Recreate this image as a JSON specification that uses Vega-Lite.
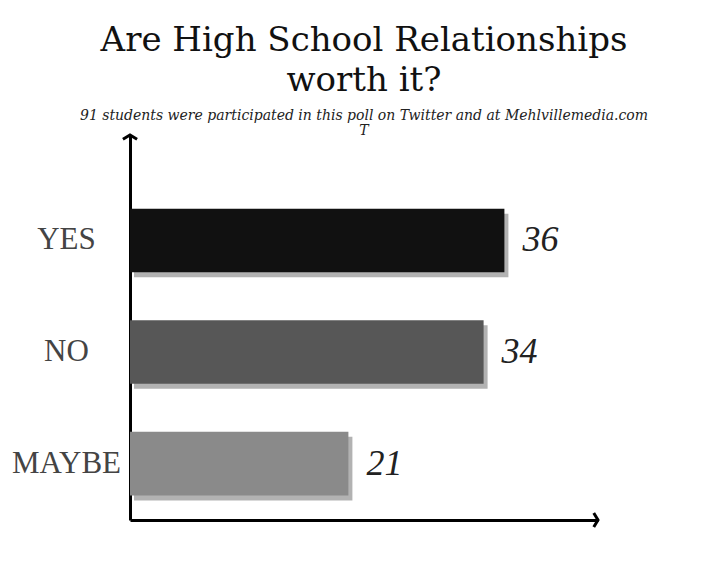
{
  "$schema": "https://vega.github.io/schema/vega-lite/v6.json",
  "width": 468,
  "height": 385,
  "autosize": {"type": "none"},
  "padding": {"left": 130, "top": 135, "right": 122, "bottom": 56},
  "background": "white",
  "title": {
    "text": ["Are High School Relationships", "worth it?"],
    "subtitle": ["91 students were participated in this poll on Twitter and at Mehlvillemedia.com", "T"],
    "font": "DejaVu Serif",
    "fontSize": 34,
    "fontWeight": "normal",
    "color": "#111111",
    "lineHeight": 40,
    "subtitleFont": "DejaVu Serif",
    "subtitleFontStyle": "italic",
    "subtitleFontSize": 14,
    "subtitleColor": "#222222",
    "subtitleLineHeight": 15,
    "subtitlePadding": 11,
    "anchor": "middle",
    "frame": "group",
    "offset": -9
  },
  "config": {"view": {"stroke": null}},
  "datasets": {
    "bars": [
      {"answer": "YES", "count": 36},
      {"answer": "NO", "count": 34},
      {"answer": "MAYBE", "count": 21}
    ],
    "arrows": [
      {"px": 0, "py": 1, "dir": "up"},
      {"px": 45, "py": 0, "dir": "right"}
    ]
  },
  "resolve": {"scale": {"y": "independent"}},
  "layer": [
    {
      "data": {"name": "bars"},
      "encoding": {
        "y": {
          "field": "answer",
          "type": "nominal",
          "sort": ["YES", "NO", "MAYBE"],
          "scale": {"paddingInner": 0.43, "paddingOuter": 0.44, "align": 0.75},
          "axis": {
            "title": null,
            "domainColor": "black",
            "domainWidth": 3,
            "ticks": false,
            "labelFont": "Liberation Serif",
            "labelFontSize": 31,
            "labelColor": "#444444",
            "labelAlign": "center",
            "labelBaseline": "middle",
            "labelPadding": 64
          }
        },
        "x": {
          "field": "count",
          "type": "quantitative",
          "scale": {"domain": [0, 45], "nice": false},
          "axis": {
            "title": null,
            "labels": false,
            "ticks": false,
            "grid": false,
            "domainColor": "black",
            "domainWidth": 3
          }
        }
      },
      "layer": [
        {
          "mark": {"type": "bar", "color": "#555555", "opacity": 0.45, "xOffset": 4, "yOffset": 5}
        },
        {
          "mark": {"type": "bar"},
          "encoding": {
            "color": {
              "field": "answer",
              "type": "nominal",
              "scale": {"domain": ["YES", "NO", "MAYBE"], "range": ["#111111", "#575757", "#8a8a8a"]},
              "legend": null
            }
          }
        },
        {
          "mark": {
            "type": "text",
            "align": "left",
            "baseline": "middle",
            "dx": 18,
            "font": "Liberation Serif",
            "fontStyle": "italic",
            "fontSize": 36,
            "color": "#222222"
          },
          "encoding": {"text": {"field": "count", "type": "quantitative"}}
        }
      ]
    },
    {
      "data": {"name": "arrows"},
      "mark": {"type": "point", "filled": false, "color": "black", "strokeWidth": 3, "size": 200, "opacity": 1},
      "encoding": {
        "x": {"field": "px", "type": "quantitative"},
        "y": {"field": "py", "type": "quantitative", "scale": {"domain": [0, 1]}, "axis": null},
        "shape": {
          "field": "dir",
          "type": "nominal",
          "scale": {"domain": ["up", "right"], "range": ["M -1 0.6 L 0 0 L 1 0.6", "M -0.6 -1 L 0 0 L -0.6 1"]},
          "legend": null
        }
      }
    }
  ]
}
